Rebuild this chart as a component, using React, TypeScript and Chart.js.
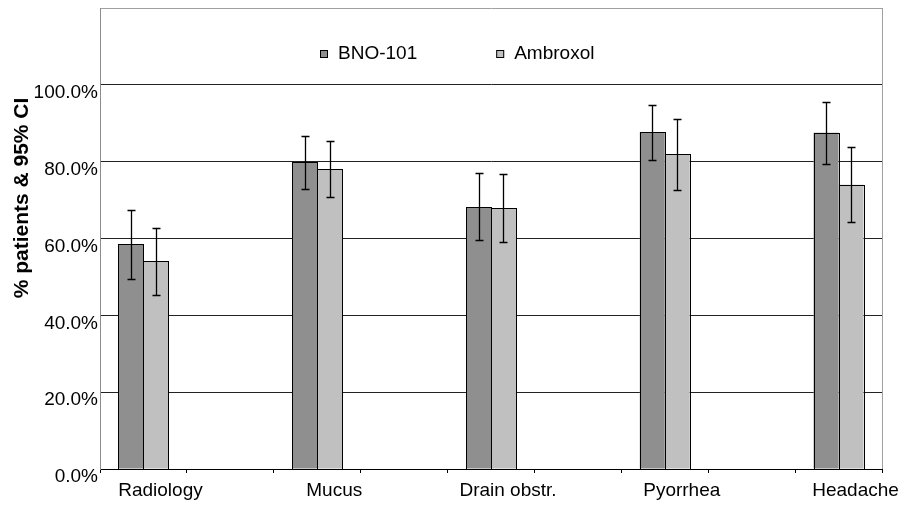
import React, { useEffect, useRef } from 'react';
import { Chart, registerables } from 'chart.js';

Chart.register(...registerables);

// ---- data ----
const categories = ['Radiology', 'Mucus', 'Drain obstr.', 'Pyorrhea', 'Headache'];
const seriesNames = ['BNO-101', 'Ambroxol'];
const bnoValues = [0.586, 0.798, 0.682, 0.877, 0.875];
const bnoLow = [0.495, 0.728, 0.595, 0.805, 0.793];
const bnoHigh = [0.673, 0.868, 0.770, 0.948, 0.956];
const ambValues = [0.541, 0.780, 0.679, 0.819, 0.740];
const ambLow = [0.453, 0.707, 0.591, 0.725, 0.643];
const ambHigh = [0.628, 0.853, 0.767, 0.910, 0.839];
const yTickValues = [0, 0.2, 0.4, 0.6, 0.8, 1.0];
const yAxisTitle = '% patients & 95% CI';

// categories interleaved with empty slots (spacing as in the original)
const spread = (arr: any[], blank: any) => {
  const out: any[] = [];
  arr.forEach((v, i) => {
    out.push(v);
    if (i < arr.length - 1) out.push(blank);
  });
  return out;
};

const FONT = '"Liberation Sans", Arial, Helvetica, sans-serif';

const errLows = [spread(bnoLow, null), spread(ambLow, null)];
const errHighs = [spread(bnoHigh, null), spread(ambHigh, null)];

const barOutlinePlugin = {
  id: 'barOutline',
  afterDatasetsDraw(chart: any) {
    const { ctx } = chart;
    ctx.save();
    ctx.strokeStyle = '#000';
    ctx.lineWidth = 1;
    chart.data.datasets.forEach((ds: any, i: number) => {
      const meta = chart.getDatasetMeta(i);
      meta.data.forEach((bar: any, j: number) => {
        if (ds.data[j] == null) return;
        const p = bar.getProps(['x', 'y', 'base', 'width'], true);
        const l = Math.round(p.x - p.width / 2) + 0.5;
        const r = Math.round(p.x + p.width / 2) + 0.5;
        const t = Math.round(p.y) + 0.5;
        const b = Math.round(p.base) + 0.5;
        ctx.strokeRect(l, t, r - l, b - t);
      });
    });
    ctx.restore();
  },
};

const errorBarsPlugin = {
  id: 'errorBars',
  afterDatasetsDraw(chart: any) {
    const { ctx } = chart;
    const y = chart.scales.y;
    chart.data.datasets.forEach((ds: any, i: number) => {
      const meta = chart.getDatasetMeta(i);
      meta.data.forEach((bar: any, j: number) => {
        const lo = errLows[i][j];
        const hi = errHighs[i][j];
        if (lo == null || hi == null) return;
        const x = Math.round(bar.x) + 0.5;
        const yl = Math.round(y.getPixelForValue(lo)) + 0.5;
        const yh = Math.round(y.getPixelForValue(hi)) + 0.5;
        ctx.save();
        ctx.strokeStyle = '#000';
        ctx.lineWidth = 1.3;
        ctx.beginPath();
        ctx.moveTo(x, yl);
        ctx.lineTo(x, yh);
        ctx.moveTo(x - 4, yl);
        ctx.lineTo(x + 4, yl);
        ctx.moveTo(x - 4, yh);
        ctx.lineTo(x + 4, yh);
        ctx.stroke();
        ctx.restore();
      });
    });
  },
};

const framePlugin = {
  id: 'frame',
  beforeDatasetsDraw(chart: any) {
    const { ctx, chartArea } = chart;
    ctx.save();
    ctx.strokeStyle = '#a0a0a0';
    ctx.lineWidth = 1;
    ctx.beginPath();
    ctx.moveTo(Math.round(chartArea.right) + 0.5, chartArea.top);
    ctx.lineTo(Math.round(chartArea.right) + 0.5, chartArea.bottom);
    ctx.stroke();
    ctx.restore();
  },
};

const legendPlugin = {
  id: 'innerLegend',
  afterDraw(chart: any) {
    const { ctx, chartArea } = chart;
    ctx.save();
    ctx.font = `19px ${FONT}`;
    const box = 8;
    const gapText = 10;
    const gapItem = 79;
    const items = chart.data.datasets.map((ds: any) => ({
      label: ds.label,
      color: ds.backgroundColor,
      w: ctx.measureText(ds.label).width,
    }));
    const total =
      items.reduce((s: number, it: any) => s + box + gapText + it.w, 0) +
      gapItem * (items.length - 1);
    let x = Math.round(chart.width / 2 - total / 2) - 2;
    const yc = chartArea.top + 46;
    items.forEach((it: any) => {
      ctx.fillStyle = it.color;
      ctx.fillRect(x, yc - 4, box, box);
      ctx.strokeStyle = '#000';
      ctx.lineWidth = 1;
      ctx.strokeRect(x + 0.5, yc - 3.5, box - 1, box - 1);
      ctx.fillStyle = '#000';
      ctx.textBaseline = 'middle';
      ctx.textAlign = 'left';
      ctx.fillText(it.label, x + box + gapText, yc);
      x += box + gapText + it.w + gapItem;
    });
    ctx.restore();
  },
};

const axisTitlePlugin = {
  id: 'axisTitle',
  afterDraw(chart: any) {
    const { ctx, chartArea } = chart;
    ctx.save();
    ctx.font = `bold 21px ${FONT}`;
    ctx.fillStyle = '#000';
    ctx.textAlign = 'center';
    ctx.textBaseline = 'middle';
    ctx.translate(chartArea.left - 78, chartArea.top + 190);
    ctx.rotate(-Math.PI / 2);
    ctx.fillText(yAxisTitle, 0, 0);
    ctx.restore();
  },
};

export default function App() {
  const canvasRef = useRef<HTMLCanvasElement | null>(null);

  useEffect(() => {
    if (!canvasRef.current) return;
    const chart = new Chart(canvasRef.current, {
      type: 'bar',
      data: {
        labels: spread(categories, ''),
        datasets: [
          {
            label: seriesNames[0],
            data: spread(bnoValues, null),
            backgroundColor: '#8f8f8f',
            borderWidth: 0,
          },
          {
            label: seriesNames[1],
            data: spread(ambValues, null),
            backgroundColor: '#c0c0c0',
            borderWidth: 0,
          },
        ],
      },
      options: {
        animation: false,
        responsive: true,
        maintainAspectRatio: false,
        layout: { padding: { left: 0, right: 36, top: 8, bottom: 0 } },
        datasets: { bar: { categoryPercentage: 0.575, barPercentage: 1 } },
        plugins: {
          legend: { display: false },
          tooltip: { enabled: false },
        },
        scales: {
          x: {
            grid: {
              offset: true,
              drawOnChartArea: false,
              drawTicks: true,
              tickLength: 4,
              color: '#000',
            },
            border: { color: '#000' },
            ticks: {
              autoSkip: false,
              maxRotation: 0,
              minRotation: 0,
              labelOffset: 17,
              padding: 6,
              color: '#000',
              font: { family: FONT, size: 19 },
            },
            afterFit: (s: any) => {
              s.height = 36;
              s.paddingLeft = 0;
              s.paddingRight = 0;
            },
          },
          y: {
            min: 0,
            max: 1.2,
            afterBuildTicks: (s: any) => {
              s.ticks = [...yTickValues, 1.2].map((v) => ({ value: v }));
            },
            grid: {
              drawTicks: false,
              color: (c: any) => (c.tick && c.tick.value > 1.1 ? '#a0a0a0' : '#222'),
            },
            border: { color: '#8c8c8c' },
            ticks: {
              padding: 2,
              labelOffset: 8,
              color: '#000',
              font: { family: FONT, size: 19 },
              callback: (v: any) => (Number(v) > 1.1 ? '' : (Number(v) * 100).toFixed(1) + '%'),
            },
            afterFit: (s: any) => {
              s.width = 100;
              s.paddingTop = 0;
              s.paddingBottom = 0;
            },
          },
        },
      },
      plugins: [framePlugin, barOutlinePlugin, errorBarsPlugin, legendPlugin, axisTitlePlugin],
    });
    return () => chart.destroy();
  }, []);

  return (
    <div style={{ position: 'fixed', left: 0, top: 0, width: 918, height: 505, background: '#fff' }}>
      <canvas ref={canvasRef} />
    </div>
  );
}
